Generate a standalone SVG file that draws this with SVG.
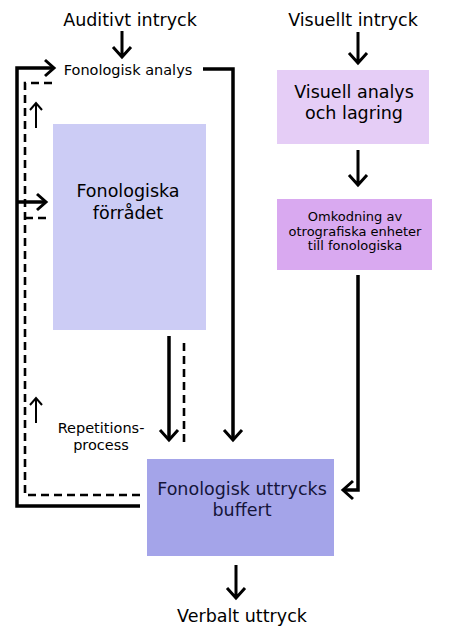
<svg xmlns="http://www.w3.org/2000/svg" width="455" height="643" viewBox="0 0 455 643">
<style>
text{font-family:"DejaVu Sans",sans-serif;text-anchor:middle;fill:#000}
.big{font-size:17.5px}
.med{font-size:14.5px}
.sm{font-size:13px}
.s{fill:none;stroke:#000;stroke-width:3.5}
.d{fill:none;stroke:#000;stroke-width:2.6;stroke-dasharray:8,5}
.t{fill:none;stroke:#000;stroke-width:2}
.h{fill:none;stroke:#000;stroke-width:3}
.nv{fill:#15153a}
</style>
<rect width="455" height="643" fill="#fff"/>
<g id="labels">
<text class="big" x="130" y="26">Auditivt intryck</text>
<text class="big" x="353" y="26">Visuellt intryck</text>
<text class="med" x="128" y="75">Fonologisk analys</text>
<text class="med" x="101" y="433">Repetitions-</text>
<text class="med" x="101" y="450">process</text>
<text class="big" x="242" y="622">Verbalt uttryck</text>
</g>
<g id="forradet">
<rect x="53" y="124" width="153" height="206" fill="#ccccf5"/>
<text class="big" x="128" y="197">Fonologiska</text>
<text class="big" x="128" y="219">förrådet</text>
</g>
<g id="visuell">
<rect x="277" y="70" width="152" height="74" fill="#e5cdf6"/>
<text class="big" x="354" y="98">Visuell analys</text>
<text class="big" x="354" y="119">och lagring</text>
</g>
<g id="omkodning">
<rect x="277" y="199" width="155" height="71" fill="#d9a9f0"/>
<text class="sm" x="355" y="221">Omkodning av</text>
<text class="sm" x="355" y="236">otrografiska enheter</text>
<text class="sm" x="355" y="250">till fonologiska</text>
</g>
<g id="buffert">
<rect x="147" y="459" width="187" height="97" fill="#a4a4e9"/>
<text class="big nv" x="242" y="495">Fonologisk uttrycks</text>
<text class="big nv" x="242" y="516">buffert</text>
</g>
<g id="connectors">
<path class="h" d="M122 31V56M113 47L122 57L131 47"/>
<path class="h" d="M358 32V62M349 53L358 63L367 53"/>
<path class="h" d="M358 150V184M349 175L358 185L367 175"/>
<path class="s" d="M358 275V490H344"/>
<path class="h" d="M353 481L343 490L353 499"/>
<path class="s" d="M203 69H233V439"/>
<path class="h" d="M224 430L233 440L242 430"/>
<path class="s" d="M169 336V439"/>
<path class="h" d="M160 430L169 440L178 430"/>
<path class="d" d="M184 343V447"/>
<path class="h" d="M236 565V597M227 588L236 598L245 588"/>
<path class="s" d="M140 506H17V68H53"/>
<path class="h" d="M45 60L54 68L45 76"/>
<path class="s" d="M17 202H44"/>
<path class="h" d="M37 194L46 202L37 210"/>
<path class="d" d="M140 495H25V83H53"/>
<path class="d" d="M25 218H48"/>
<path class="t" d="M36 128V104M30 110L36 103L42 110"/>
<path class="t" d="M36 423V399M30 405L36 398L42 405"/>
</g>
</svg>
